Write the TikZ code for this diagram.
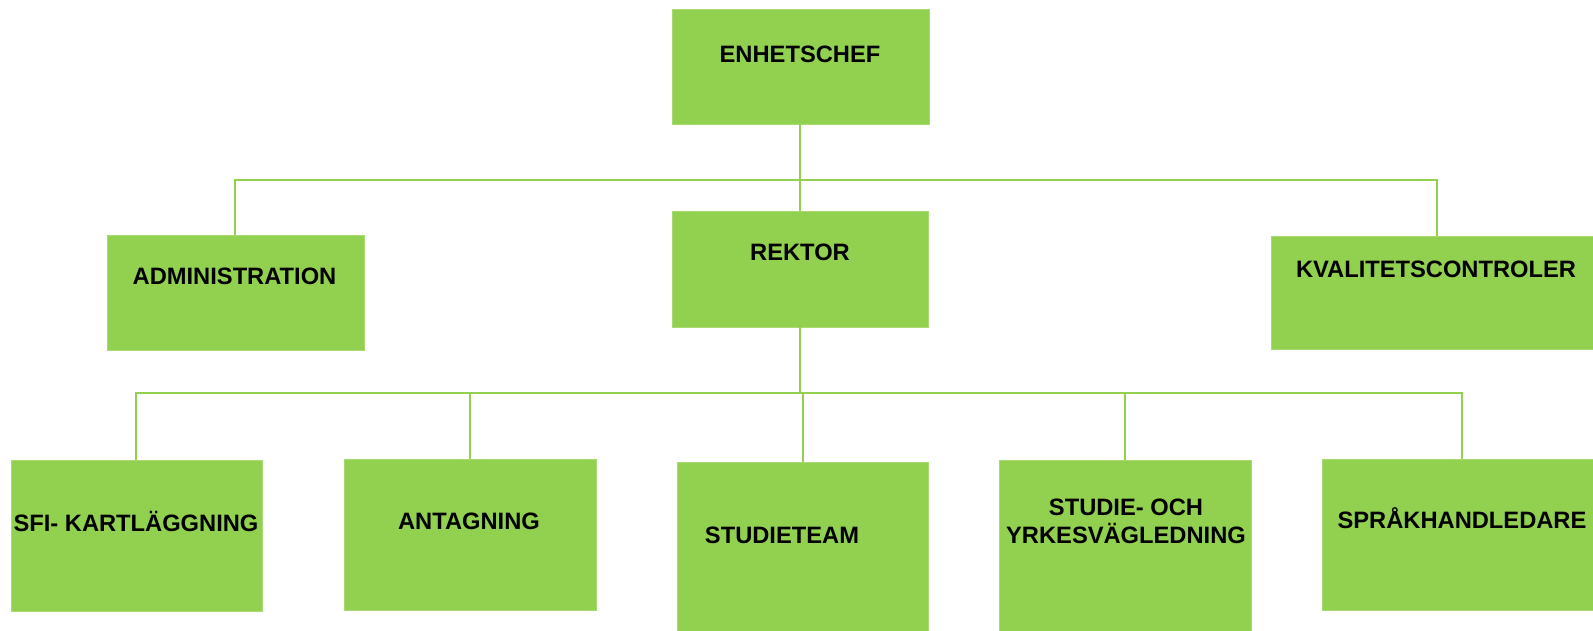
\documentclass[tikz,border=0pt]{standalone}
\usepackage{fontspec}
\setmainfont{Liberation Sans}
\definecolor{boxgreen}{HTML}{92D050}
\definecolor{linegreen}{HTML}{92D050}
\begin{document}
\begin{tikzpicture}[x=1pt,y=-1pt,
  box/.style={fill=boxgreen,draw=boxgreen!80!white,line width=0.6pt,inner sep=0pt,outer sep=0pt},
  lbl/.style={font=\bfseries\fontsize{23.7}{28}\selectfont,inner sep=0pt,anchor=base,align=center},
  conn/.style={draw=linegreen,line width=2pt}]
\useasboundingbox (0,0) rectangle (1593,631);
\clip (0,0) rectangle (1593,631);
% boxes
\path[box] (672,9) rectangle (929,124) node[pos=0.5] (enh) {};
\path[box] (672,211) rectangle (928,327) node[pos=0.5] (rek) {};
\path[box] (107,235) rectangle (364,350) node[pos=0.5] (adm) {};
\path[box] (1271,236) rectangle (1603,349) node[pos=0.5] (kval) {};
\path[box] (11,460) rectangle (262,611) node[pos=0.5] (sfi) {};
\path[box] (344,459) rectangle (596,610) node[pos=0.5] (ant) {};
\path[box] (677,462) rectangle (928,640) node[pos=0.5] (stt) {};
\path[box] (999,460) rectangle (1251,640) node[pos=0.5] (syv) {};
\path[box] (1322,459) rectangle (1602,610) node[pos=0.5] (spr) {};
% anchor coordinates at box tops/bottoms
\coordinate (enhS) at (800,124);
\coordinate (rekN) at (800,211);
\coordinate (rekS) at (800,327);
\coordinate (admN) at (235,235);
\coordinate (kvalN) at (1437,236);
\coordinate (sfiN) at (136,460);
\coordinate (antN) at (470,459);
\coordinate (sttN) at (803,462);
\coordinate (syvN) at (1125,460);
\coordinate (sprN) at (1462,459);
\coordinate (busA) at (800,180);
\coordinate (busB) at (800,393);
% texts
\node[lbl] (tenh) at (800,63) {ENHETSCHEF};
\node[lbl] (trek) at (800,260) {REKTOR};
\node[lbl] (tadm) at (234.5,284) {ADMINISTRATION};
\node[lbl] (tkval) at (1436,277) {KVALITETSCONTROLER};
\node[lbl] (tsfi) at (136,531) {SFI- KARTLÄGGNING};
\node[lbl] (tant) at (469,529) {ANTAGNING};
\node[lbl] (tstt) at (782,543) {STUDIETEAM};
\node[lbl] (tsyv) at (1126,543) {STUDIE- OCH\\YRKESVÄGLEDNING};
\node[lbl] (tspr) at (1462,528) {SPRÅKHANDLEDARE};
% connectors
\draw[conn] (enhS) -- (rekN);
\draw[conn] (admN) -- (admN |- busA) -- (kvalN |- busA) -- (kvalN);
\draw[conn] (rekS) -- (busB);
\draw[conn] (sfiN) -- (sfiN |- busB) -- (sprN |- busB) -- (sprN);
\draw[conn] (antN |- busB) -- (antN);
\draw[conn] (sttN |- busB) -- (sttN);
\draw[conn] (syvN |- busB) -- (syvN);
\end{tikzpicture}
\end{document}
